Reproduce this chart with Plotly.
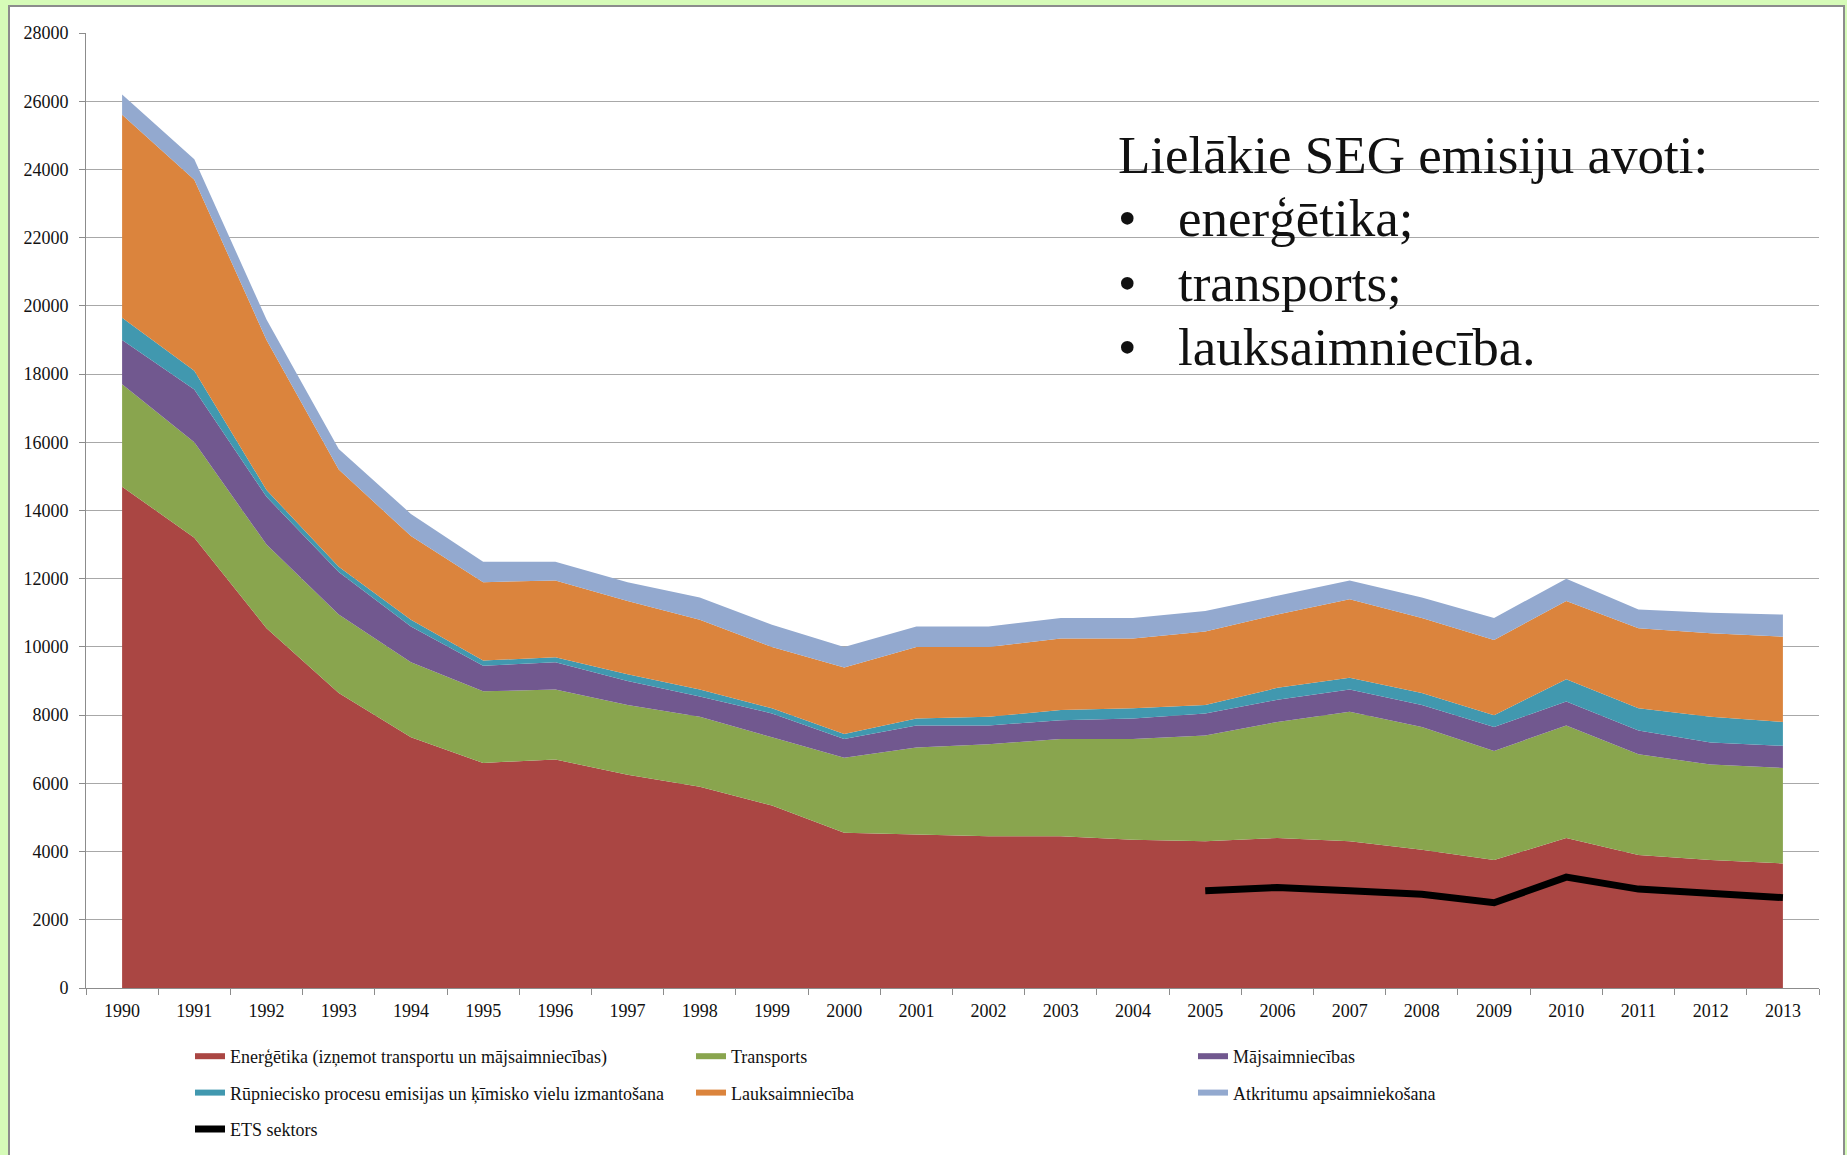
import plotly.graph_objects as go

years = [str(y) for y in range(1990, 2014)]

energetika = [14700, 13200, 10550, 8650, 7350, 6600, 6700, 6250, 5900, 5350, 4550, 4500,
              4450, 4450, 4350, 4300, 4400, 4300, 4050, 3750, 4400, 3900, 3750, 3650]
transports = [3000, 2800, 2450, 2300, 2200, 2100, 2050, 2050, 2050, 2000, 2200, 2550,
              2700, 2850, 2950, 3100, 3400, 3800, 3600, 3200, 3300, 2950, 2800, 2800]
majsaimn = [1300, 1550, 1400, 1250, 1050, 750, 800, 700, 600, 700, 550, 650,
            550, 550, 600, 650, 650, 650, 650, 700, 700, 700, 650, 650]
rupn = [650, 550, 200, 150, 200, 150, 150, 200, 200, 150, 150, 200,
        250, 300, 300, 250, 350, 350, 350, 350, 650, 650, 750, 700]
lauks = [5950, 5600, 4400, 2850, 2450, 2300, 2250, 2150, 2050, 1800, 1950, 2100,
         2050, 2100, 2050, 2150, 2150, 2300, 2200, 2200, 2300, 2350, 2450, 2500]
atkr = [600, 600, 600, 600, 650, 600, 550, 550, 650, 650, 600, 600,
        600, 600, 600, 600, 550, 550, 600, 650, 650, 550, 600, 650]
ets_years = [str(y) for y in range(2005, 2014)]
ets = [2850, 2950, 2850, 2750, 2500, 3250, 2900, 2750, 2650]

y_ticks = list(range(0, 28001, 2000))
y_ticklabels = [str(v) for v in y_ticks]

names = ["Enerģētika (izņemot transportu un mājsaimniecības)", "Transports", "Mājsaimniecības",
         "Rūpniecisko procesu emisijas un ķīmisko vielu izmantošana", "Lauksaimniecība",
         "Atkritumu apsaimniekošana"]
series = [energetika, transports, majsaimn, rupn, lauks, atkr]
colors = ["#AA4643", "#89A54E", "#71588F", "#4198AF", "#DB843D", "#93A9CF"]
legend_of = ["legend", "legend2", "legend3", "legend", "legend2", "legend3"]

FONT = "Liberation Serif, Times New Roman, serif"

W, H = 1847, 1155
L, R, T, B = 86, 1819, 33, 988
pw, ph = R - L, B - T

def px(x):
    return (x - L) / pw

def py(y):
    return (B - y) / ph

fig = go.Figure()
for i, (n, s, c, lg) in enumerate(zip(names, series, colors, legend_of)):
    fig.add_trace(go.Scatter(x=years, y=s, name=n, stackgroup="one", mode="none",
                             fillcolor=c, legend=lg, legendgroup=str(i)))
fig.add_trace(go.Scatter(x=ets_years, y=ets, name="ETS sektors", mode="lines",
                         line=dict(color="black", width=7), legend="legend", legendgroup="6"))

leg_common = dict(yanchor="top", xanchor="left", orientation="v", traceorder="grouped",
                  font=dict(family=FONT, size=18, color="#111"), bgcolor="rgba(0,0,0,0)",
                  tracegroupgap=10, y=py(1038))

fig.update_layout(
    width=W, height=H,
    margin=dict(l=L, r=W - R, t=T, b=H - B, autoexpand=False),
    paper_bgcolor="#d6fbb8",
    plot_bgcolor="white",
    showlegend=True,
    legend=dict(x=px(190), **leg_common),
    legend2=dict(x=px(691), **leg_common),
    legend3=dict(x=px(1193), **leg_common),
    xaxis=dict(type="category", tickson="boundaries", ticks="outside", ticklen=6,
               tickcolor="#8c8c8c", showgrid=False, showline=True, linecolor="#8c8c8c",
               linewidth=1, range=[-0.5, 23.5], automargin=False, ticklabelstandoff=6,
               tickfont=dict(family=FONT, size=18, color="#111")),
    yaxis=dict(range=[0, 28000], tickvals=y_ticks, ticktext=y_ticklabels, ticks="outside",
               ticklen=6, automargin=False,
               tickcolor="#8c8c8c", showgrid=True, gridcolor="#a8a8a8", gridwidth=1,
               showline=True, linecolor="#8c8c8c", linewidth=1, zeroline=False,
               ticklabelstandoff=7,
               tickfont=dict(family=FONT, size=18, color="#111")),
    shapes=[dict(type="rect", xref="paper", yref="paper", layer="below",
                 x0=px(9), x1=px(1844), y0=py(1170), y1=py(6),
                 fillcolor="white", line=dict(color="#8c8c8c", width=2))],
)

ann_font = dict(family=FONT, size=53, color="#111")
fig.add_annotation(text="Lielākie SEG emisiju avoti:", xref="paper", yref="paper",
                   x=px(1116), y=py(155), xanchor="left", yanchor="middle",
                   showarrow=False, font=ann_font)
items = ["enerģētika;", "transports;", "lauksaimniecība."]
centers = [218, 283, 347]
for t, c in zip(items, centers):
    fig.add_annotation(text="•", xref="paper", yref="paper", x=px(1127), y=py(c),
                       xanchor="center", yanchor="middle", showarrow=False, font=ann_font)
    fig.add_annotation(text=t, xref="paper", yref="paper", x=px(1176), y=py(c),
                       xanchor="left", yanchor="middle", showarrow=False, font=ann_font)

fig.write_html("out.html", config={"displayModeBar": False},
               post_script="document.body.style.margin='0px';document.body.style.background='#d6fbb8';")
